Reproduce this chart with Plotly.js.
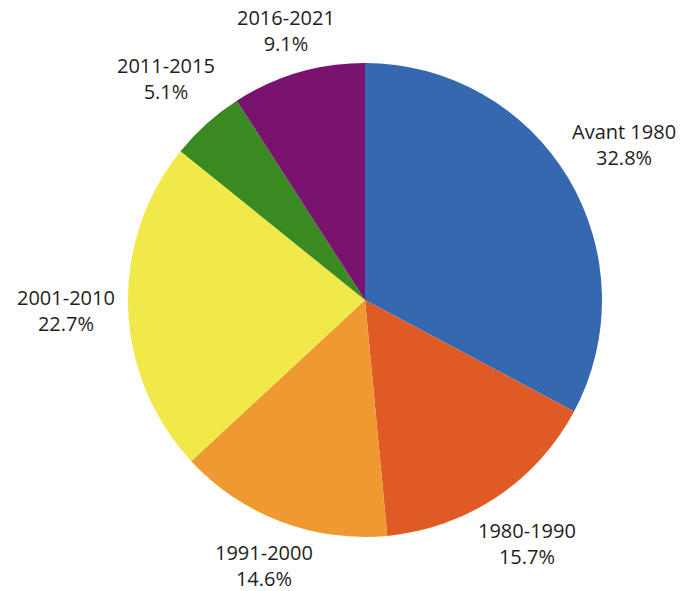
<!DOCTYPE html>
<html>
<head>
<meta charset="utf-8">
<script src="https://cdn.plot.ly/plotly-3.0.1.min.js"></script>
<style>html,body{margin:0;padding:0;background:#fff;}</style>
</head>
<body>
<div id="chart" style="width:689px;height:591px;"></div>
<script>
const labels = ["Avant 1980", "1980-1990", "1991-2000", "2001-2010", "2011-2015", "2016-2021"];
const values = [32.8, 15.7, 14.6, 22.7, 5.1, 9.1];
const colors = ["#3469b0", "#e05a25", "#ef9a30", "#f1e84a", "#3a8a22", "#7a1270"];

(function () {
const W = 689, H = 591;
// pie area in pixels (layout only)
const pLeft = 128, pRight = 602, pTop = 63, pBottom = 537;
const cx = (pLeft + pRight) / 2, cy = (pTop + pBottom) / 2, R = (pRight - pLeft) / 2;
const fontSize = 20;
const halfW = 56, halfH = 24, gap = 5;

const total = values.reduce((a, b) => a + b, 0);
let cum = 0;
const annotations = values.map((v, i) => {
  const mid = (cum + v / 2) / total * 2 * Math.PI;
  cum += v;
  const s = Math.sin(mid), c = Math.cos(mid);
  const d = R + gap + Math.abs(halfW * s) + Math.abs(halfH * c);
  const px = cx + d * s, py = cy - d * c;
  return {
    xref: "paper", yref: "paper",
    x: px / W, y: 1 - py / H,
    xanchor: "center", yanchor: "middle",
    showarrow: false, align: "center",
    text: labels[i] + "<br>" + v.toFixed(1) + "%",
    font: {family: "Open Sans, sans-serif", size: fontSize, color: "#1e1e1e"}
  };
});

Plotly.newPlot("chart", [{
  type: "pie",
  labels: labels,
  values: values,
  sort: false,
  direction: "clockwise",
  rotation: 0,
  marker: {colors: colors, line: {width: 0}},
  textinfo: "none",
  hoverinfo: "label+value",
  domain: {x: [pLeft / W, pRight / W], y: [1 - pBottom / H, 1 - pTop / H]},
  showlegend: false
}], {
  width: W, height: H,
  margin: {l: 0, r: 0, t: 0, b: 0},
  paper_bgcolor: "#fff",
  showlegend: false,
  annotations: annotations
}, {displayModeBar: false, staticPlot: true});
})();
</script>
</body>
</html>
